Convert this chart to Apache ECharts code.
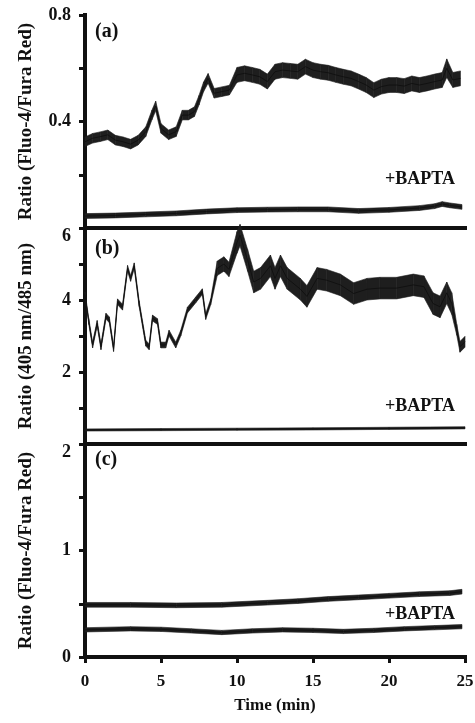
<!DOCTYPE html>
<html>
<head>
<meta charset="utf-8">
<script src="https://cdn.jsdelivr.net/npm/echarts@6/dist/echarts.min.js"></script>
<style>
  html, body { margin: 0; padding: 0; background: #fff; }
  #main { width: 475px; height: 723px; }
</style>
</head>
<body>
<div id="main"></div>
<script>
// panel (a) control trace: time (min), ratio, half width of the noise band
var tA = [0,0.5,1,1.5,2,2.5,3,3.5,4,4.4,4.65,5,5.5,6,6.4,6.8,7.2,7.5,7.8,8.1,8.5,9,9.5,10,10.5,11,11.5,12,12.5,13,13.5,14,14.5,15,15.5,16,16.5,17,17.5,18,18.5,19,19.5,20,20.5,21,21.5,22,22.5,23,23.5,23.8,24.2,24.7];
var vA = [0.324,0.337,0.343,0.35,0.33,0.324,0.315,0.33,0.362,0.424,0.458,0.374,0.35,0.362,0.424,0.424,0.437,0.48,0.53,0.562,0.506,0.512,0.518,0.575,0.581,0.575,0.568,0.55,0.587,0.593,0.59,0.587,0.606,0.593,0.587,0.583,0.575,0.568,0.562,0.55,0.537,0.518,0.531,0.537,0.537,0.533,0.543,0.537,0.543,0.55,0.556,0.6,0.556,0.562];
var sA = [0.018,0.018,0.018,0.018,0.018,0.018,0.018,0.018,0.018,0.018,0.018,0.018,0.018,0.018,0.018,0.018,0.018,0.018,0.018,0.018,0.018,0.018,0.018,
          0.028,0.028,0.028,0.028,0.028,0.028,0.028,0.028,0.028,0.028,0.028,0.028,0.028,0.028,0.028,0.028,0.028,0.028,0.028,0.028,0.028,0.028,0.028,0.028,0.028,0.028,0.028,0.028,0.035,0.028,0.028];
// panel (a) +BAPTA
var tA2 = [0,2,4,6,8,10,12,14,16,18,20,22,23,23.5,24,24.8];
var vA2 = [0.045,0.047,0.051,0.055,0.062,0.067,0.069,0.07,0.07,0.064,0.068,0.075,0.082,0.09,0.085,0.079];
var sA2 = 0.009;

// panel (b) control trace
var tB = [0,0.25,0.5,0.8,1.05,1.38,1.6,1.88,2.14,2.47,2.8,3.0,3.24,3.56,4.0,4.22,4.44,4.77,4.99,5.31,5.53,5.97,6.3,6.74,7.28,7.72,7.94,8.27,8.7,9.14,9.47,10.0,10.2,10.7,11.1,11.55,12.2,12.5,12.86,13.3,14.17,14.6,15.27,15.9,16.8,17.67,18.55,19.4,20.5,21.6,22.3,22.9,23.36,23.8,24.13,24.46,24.67,25];
var vB = [4.15,3.4,2.75,3.35,2.7,3.55,3.45,2.65,3.95,3.8,4.88,4.6,4.95,3.9,2.8,2.7,3.5,3.4,2.75,2.75,3.08,2.75,3.08,3.72,4.0,4.23,3.54,3.95,4.88,5.0,4.85,5.6,5.8,5.1,4.5,4.6,4.95,4.6,4.95,4.6,4.3,4.1,4.6,4.55,4.42,4.18,4.3,4.33,4.33,4.42,4.37,3.9,3.81,4.2,3.9,3.17,2.7,2.84];
var sB = [0.08,0.08,0.08,0.08,0.08,0.08,0.08,0.08,0.08,0.08,0.08,0.08,0.08,0.08,0.08,0.08,0.08,0.08,0.08,0.08,0.08,0.08,0.08,0.08,0.08,0.08,0.08,0.08,
          0.2,0.2,0.2,
          0.3,0.3,0.3,0.3,0.3,0.3,0.3,0.3,0.3,0.3,0.3,0.3,0.3,0.3,0.3,0.3,0.3,0.3,0.3,0.3,0.3,0.3,0.3,0.3,
          0.15,0.15,0.15];
// panel (b) +BAPTA
var tB2 = [0,5,10,15,20,25];
var vB2 = [0.39,0.4,0.41,0.42,0.435,0.45];
var sB2 = 0.03;

// panel (c) control and +BAPTA
var tC = [0,3,6,9,12,14,16,18,20,22,24,24.8];
var vC = [0.49,0.49,0.485,0.49,0.51,0.525,0.545,0.56,0.575,0.59,0.6,0.613];
var sC = 0.022;
var tC2 = [0,3,5,7,9,11,13,15,17,19,21,23,24.8];
var vC2 = [0.255,0.265,0.26,0.245,0.23,0.245,0.255,0.25,0.24,0.25,0.265,0.275,0.285];
var sC2 = 0.02;

// tick labels that are printed
var yLabelsA = [0.4, 0.8];
var yLabelsB = [2, 4, 6];
var yLabelsC = [0, 1, 2];

var FONT = "'Liberation Serif', 'Times New Roman', serif";
var INK = '#111';

function spreadAt(s, i) { return Array.isArray(s) ? s[i] : s; }

// band = one quad per segment, drawn through the axes' scales
function renderBand(params, api) {
    var p0 = api.coord([api.value(0), api.value(1)]);
    var p1 = api.coord([api.value(3), api.value(4)]);
    var p2 = api.coord([api.value(3), api.value(5)]);
    var p3 = api.coord([api.value(0), api.value(2)]);
    return {
        type: 'polygon',
        shape: { points: [p0, p1, p2, p3] },
        style: { fill: '#1e1e1e', stroke: '#1e1e1e', lineWidth: 0.6 }
    };
}

function trace(idx, t, v, s, lw) {
    var quads = [], line = [];
    for (var i = 0; i < t.length; i++) {
        line.push([t[i], v[i]]);
        if (i < t.length - 1) {
            var w0 = spreadAt(s, i), w1 = spreadAt(s, i + 1);
            quads.push([t[i], v[i] - w0, v[i] + w0, t[i + 1], v[i + 1] - w1, v[i + 1] + w1]);
        }
    }
    return [{
        type: 'custom', xAxisIndex: idx, yAxisIndex: idx, silent: true,
        renderItem: renderBand, data: quads,
        encode: { x: [0, 3], y: [1, 2, 4, 5] }
    }, {
        type: 'line', xAxisIndex: idx, yAxisIndex: idx,
        data: line, symbol: 'none', silent: true,
        lineStyle: { color: INK, width: lw }
    }];
}

function yAxis(idx, max, step, shown, name) {
    return {
        type: 'value', gridIndex: idx, min: 0, max: max, interval: step,
        name: name, nameLocation: 'middle', nameGap: 49,
        nameTextStyle: { color: INK, fontFamily: FONT, fontWeight: 'bold', fontSize: 19 },
        splitLine: { show: false },
        axisLine: { lineStyle: { color: INK, width: 4, cap: 'square' } },
        axisTick: { length: 6, lineStyle: { color: INK, width: 3 } },
        axisLabel: {
            color: INK, fontFamily: FONT, fontWeight: 'bold', fontSize: 18,
            margin: 14,
            formatter: function (val) {
                for (var k = 0; k < shown.length; k++) {
                    if (Math.abs(val - shown[k]) < 1e-6) {
                        if (idx > 0 && val === max) return '{lo|' + val + '}';
                        return String(val);
                    }
                }
                return '';
            },
            rich: { lo: { padding: [16, 0, 0, 0], color: INK, fontFamily: FONT, fontWeight: 'bold', fontSize: 18 } }
        }
    };
}

function xAxis(idx, bottom) {
    return {
        type: 'value', gridIndex: idx, min: 0, max: 25, interval: 5,
        name: bottom ? 'Time (min)' : '', nameLocation: 'middle', nameGap: 40,
        nameTextStyle: { color: INK, fontFamily: FONT, fontWeight: 'bold', fontSize: 17 },
        splitLine: { show: false },
        axisLine: { onZero: false, lineStyle: { color: INK, width: 4, cap: 'square' } },
        axisTick: { show: bottom, length: 6, lineStyle: { color: INK, width: 3 } },
        axisLabel: { show: bottom, color: INK, fontFamily: FONT, fontWeight: 'bold', fontSize: 17, margin: 16 }
    };
}

function panelText(left, top, text, size) {
    return { type: 'text', left: left, top: top, silent: true, z: 100,
        style: { text: text, fill: INK, font: 'bold ' + size + 'px ' + FONT } };
}
function baptaText(top) {
    return { type: 'text', right: 20, top: top, silent: true, z: 100,
        style: { text: '+BAPTA', fill: INK, font: 'bold 18px ' + FONT } };
}

var myChart = echarts.init(document.getElementById('main'));
var option = {
    backgroundColor: '#fff',
    animation: false,
    grid: [
        { left: 85, right: 10, top: 15, height: 213, outerBoundsMode: 'none' },
        { left: 85, right: 10, top: 228, height: 216, outerBoundsMode: 'none' },
        { left: 85, right: 10, top: 444, height: 213, outerBoundsMode: 'none' }
    ],
    xAxis: [xAxis(0, false), xAxis(1, false), xAxis(2, true)],
    yAxis: [
        yAxis(0, 0.8, 0.2, yLabelsA, 'Ratio (Fluo-4/Fura Red)'),
        yAxis(1, 6, 1, yLabelsB, 'Ratio (405 nm/485 nm)'),
        yAxis(2, 2, 0.5, yLabelsC, 'Ratio (Fluo-4/Fura Red)')
    ],
    graphic: [
        panelText(95, 22, '(a)', 20),
        panelText(95, 239, '(b)', 20),
        panelText(95, 450, '(c)', 20),
        baptaText(170),
        baptaText(397),
        baptaText(605)
    ],
    series: [].concat(
        trace(0, tA, vA, sA, 1),
        trace(0, tA2, vA2, sA2, 1),
        trace(1, tB, vB, sB, 1),
        trace(1, tB2, vB2, sB2, 1),
        trace(2, tC, vC, sC, 1),
        trace(2, tC2, vC2, sC2, 1)
    )
};
myChart.setOption(option);
</script>
</body>
</html>
